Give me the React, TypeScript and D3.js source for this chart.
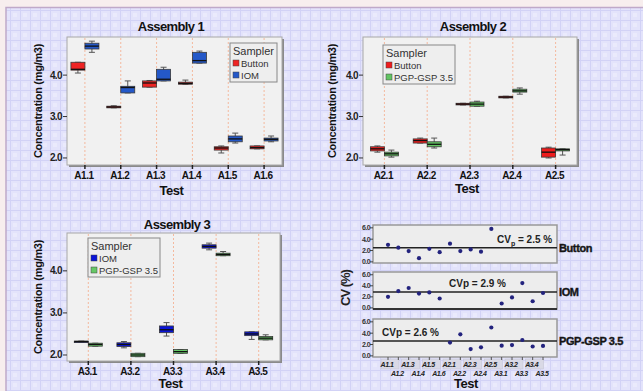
import React, { useEffect, useRef } from 'react';
import * as d3 from 'd3';

const W = 643;
const H = 391;

// box stats per test: [low whisker, q1, median, q3, high whisker]
const a1Tests = ['A1.1', 'A1.2', 'A1.3', 'A1.4', 'A1.5', 'A1.6'];
const a1Button = [
    [4.05, 4.12, 4.14, 4.31, 4.31],
    [3.21, 3.21, 3.23, 3.25, 3.26],
    [3.71, 3.71, 3.81, 3.86, 3.87],
    [3.78, 3.78, 3.80, 3.83, 3.88],
    [2.12, 2.19, 2.24, 2.27, 2.29],
    [2.22, 2.22, 2.25, 2.29, 2.29],
];
const a1IOM = [
    [4.55, 4.63, 4.70, 4.77, 4.82],
    [3.57, 3.57, 3.70, 3.73, 3.86],
    [3.86, 3.86, 3.90, 4.14, 4.19],
    [4.29, 4.29, 4.35, 4.55, 4.58],
    [2.36, 2.39, 2.46, 2.53, 2.60],
    [2.39, 2.41, 2.45, 2.48, 2.53],
];

const a2Tests = ['A2.1', 'A2.2', 'A2.3', 'A2.4', 'A2.5'];
const a2Button = [
    [2.14, 2.17, 2.22, 2.27, 2.29],
    [2.36, 2.36, 2.42, 2.46, 2.48],
    [3.28, 3.28, 3.30, 3.32, 3.32],
    [3.45, 3.45, 3.47, 3.49, 3.49],
    [2.00, 2.02, 2.14, 2.24, 2.26],
];
const a2PGP = [
    [2.02, 2.05, 2.10, 2.14, 2.19],
    [2.24, 2.27, 2.33, 2.39, 2.48],
    [3.25, 3.25, 3.30, 3.35, 3.37],
    [3.54, 3.59, 3.62, 3.66, 3.69],
    [2.07, 2.17, 2.20, 2.22, 2.22],
];

const a3Tests = ['A3.1', 'A3.2', 'A3.3', 'A3.4', 'A3.5'];
const a3IOM = [
    [2.31, 2.31, 2.32, 2.33, 2.33],
    [2.17, 2.20, 2.25, 2.29, 2.32],
    [2.45, 2.53, 2.60, 2.69, 2.77],
    [4.50, 4.54, 4.58, 4.62, 4.66],
    [2.37, 2.46, 2.50, 2.55, 2.55],
];
const a3PGP = [
    [2.21, 2.21, 2.25, 2.28, 2.28],
    [1.96, 1.96, 2.00, 2.04, 2.04],
    [2.04, 2.04, 2.08, 2.13, 2.13],
    [4.36, 4.36, 4.39, 4.42, 4.46],
    [2.36, 2.36, 2.40, 2.44, 2.48],
];

const concTicks = [2, 3, 4];

// CV (%) per test, null = sampler not used in that test
const cvTests = [...a1Tests, ...a2Tests, ...a3Tests];
const cvButton = [3.0, 2.5, 1.9, 0.65, 2.3, 1.7, 3.2, 1.9, 2.2, 1.8, 5.8, null, null, null, null, null];
const cvIOM = [2.0, 3.05, 3.6, 2.6, 2.8, 1.7, null, null, null, null, null, 0.8, 1.9, 4.5, 1.2, 2.7];
const cvPGP = [null, null, null, null, null, null, 2.35, 3.8, 1.2, 1.5, 5.0, 1.8, 1.9, 2.8, 1.65, 1.75];
const cvSamplers = ['Button', 'IOM', 'PGP-GSP 3.5'];
const cvPooled = [2.5, 2.9, 2.6];
const cvTicks = [0, 2, 4, 6];

const FONT = '"Liberation Sans", Arial, sans-serif';

const App = () => {
    const svgRef = useRef(null);

    useEffect(() => {
        const svg = d3.select(svgRef.current);
        svg.selectAll('*').remove();

        // background: lavender grid
        const defs = svg.append('defs');
        const pat = defs.append('pattern').attr('id', 'grid').attr('width', 10).attr('height', 10)
            .attr('patternUnits', 'userSpaceOnUse');
        pat.append('rect').attr('width', 10).attr('height', 10).attr('fill', '#e3e3fb');
        pat.append('rect').attr('x', 3).attr('y', 3).attr('width', 4).attr('height', 4).attr('fill', '#eaeafc');
        pat.append('path').attr('d', 'M0,0.5H10M0.5,0V10').attr('stroke', '#d2d2f6').attr('stroke-width', 1);

        svg.append('rect').attr('width', W).attr('height', H).attr('fill', '#f7eeee');
        svg.append('rect').attr('x', 6).attr('y', 8).attr('width', W - 6).attr('height', H - 8).attr('fill', 'url(#grid)');
        svg.append('path').attr('d', `M6,${H}V7.5H${W}`).attr('fill', 'none').attr('stroke', '#bfa9c9').attr('stroke-width', 1.5);

        const boxPanel = (cfg) => {
            const { x0, x1, y0, y1, domain, tests, series, title, titleX, titleY, ylabX, testY, legend } = cfg;
            const g = svg.append('g');
            const x = d3.scaleBand().domain(tests).range([x0, x1]);
            const y = d3.scaleLinear().domain(domain).range([y1, y0]);
            const cx = (t) => x(t) + x.bandwidth() / 2;

            g.append('rect').attr('x', x0 + 2).attr('y', y0 + 2).attr('width', x1 - x0).attr('height', y1 - y0).attr('fill', '#8a8a8a');
            g.append('rect').attr('x', x0).attr('y', y0).attr('width', x1 - x0).attr('height', y1 - y0)
                .attr('fill', '#f1f1f1').attr('stroke', '#a8a8a8').attr('stroke-width', 1);

            g.selectAll('.vl').data(tests).join('line')
                .attr('x1', cx).attr('x2', cx).attr('y1', y0 + 1).attr('y2', y1 - 1)
                .attr('stroke', '#f4b99e').attr('stroke-dasharray', '2,2').attr('stroke-width', 1);

            const bw = 14;
            series.forEach((s, si) => {
                const off = si === 0 ? -bw : 0;
                s.data.forEach((d, i) => {
                    const bx = cx(tests[i]) + off;
                    const mid = bx + bw / 2;
                    g.append('line').attr('x1', mid).attr('x2', mid).attr('y1', y(d[0])).attr('y2', y(d[4]))
                        .attr('stroke', '#555').attr('stroke-width', 1);
                    [d[0], d[4]].forEach(v => {
                        g.append('line').attr('x1', mid - 3).attr('x2', mid + 3).attr('y1', y(v)).attr('y2', y(v))
                            .attr('stroke', '#555').attr('stroke-width', 1);
                    });
                    g.append('rect').attr('x', bx).attr('y', y(d[3])).attr('width', bw)
                        .attr('height', Math.max(1.5, y(d[1]) - y(d[3])))
                        .attr('fill', s.color).attr('stroke', '#3a3a3a').attr('stroke-width', 0.8);
                    g.append('line').attr('x1', bx).attr('x2', bx + bw).attr('y1', y(d[2])).attr('y2', y(d[2]))
                        .attr('stroke', '#111').attr('stroke-width', 1.3);
                });
            });

            // y axis
            concTicks.forEach(t => {
                g.append('line').attr('x1', x0 - 4).attr('x2', x0).attr('y1', y(t)).attr('y2', y(t)).attr('stroke', '#333');
                g.append('text').attr('x', x0 - 5).attr('y', y(t)).attr('dy', '0.35em').attr('text-anchor', 'end')
                    .attr('font-family', FONT).attr('font-weight', 'bold').attr('font-size', 10).attr('letter-spacing', -0.6)
                    .attr('fill', '#222').text(t.toFixed(1));
            });
            // x axis
            tests.forEach(t => {
                g.append('line').attr('x1', cx(t)).attr('x2', cx(t)).attr('y1', y1).attr('y2', y1 + 4)
                    .attr('stroke', '#222').attr('stroke-width', 1.5);
                g.append('text').attr('x', cx(t) - 1).attr('y', y1 + 14).attr('text-anchor', 'middle')
                    .attr('font-family', FONT).attr('font-weight', 'bold').attr('font-size', 10).attr('letter-spacing', -0.5)
                    .attr('fill', '#111').text(t);
            });

            g.append('text').attr('x', titleX).attr('y', titleY).attr('text-anchor', 'middle')
                .attr('font-family', FONT).attr('font-weight', 'bold').attr('font-size', 13).attr('letter-spacing', -0.6)
                .attr('fill', '#111').text(title);
            g.append('text').attr('transform', `translate(${ylabX},${(y0 + y1) / 2}) rotate(-90)`).attr('dy', '0.35em')
                .attr('text-anchor', 'middle').attr('font-family', FONT).attr('font-weight', 'bold').attr('font-size', 11)
                .attr('letter-spacing', -0.3).attr('fill', '#111').text('Concentration (mg/m3)');
            g.append('text').attr('x', (x0 + x1) / 2 - 3).attr('y', testY).attr('text-anchor', 'middle')
                .attr('font-family', FONT).attr('font-weight', 'bold').attr('font-size', 13).attr('letter-spacing', -0.5)
                .attr('fill', '#111').text('Test');

            // legend
            const lg = g.append('g').attr('transform', `translate(${legend.x},${legend.y})`);
            lg.append('rect').attr('width', legend.w).attr('height', 39).attr('fill', '#eeeeee')
                .attr('stroke', '#888').attr('stroke-width', 1);
            lg.append('text').attr('x', 3).attr('y', 12).attr('font-family', FONT).attr('font-size', 11)
                .attr('font-weight', 500).attr('fill', '#333').text('Sampler');
            series.forEach((s, i) => {
                lg.append('rect').attr('x', 3).attr('y', 17 + i * 12).attr('width', 6).attr('height', 6)
                    .attr('fill', s.color).attr('stroke', '#444').attr('stroke-width', 0.5);
                lg.append('text').attr('x', 11).attr('y', 23.5 + i * 12).attr('font-family', FONT).attr('font-size', 9.5)
                    .attr('fill', '#333').text(s.name);
            });
        };

        boxPanel({
            x0: 67, x1: 282, y0: 37, y1: 165, domain: [1.83, 4.92], tests: a1Tests,
            series: [{ name: 'Button', color: '#ee2424', data: a1Button }, { name: 'IOM', color: '#2458c8', data: a1IOM }],
            title: 'Assembly 1', titleX: 171, titleY: 31, ylabX: 38, testY: 195,
            legend: { x: 230, y: 43, w: 47 },
        });
        boxPanel({
            x0: 363, x1: 577, y0: 37, y1: 165, domain: [1.83, 4.92], tests: a2Tests,
            series: [{ name: 'Button', color: '#ee1c1c', data: a2Button }, { name: 'PGP-GSP 3.5', color: '#62c462', data: a2PGP }],
            title: 'Assembly 2', titleX: 473, titleY: 31, ylabX: 332, testY: 193,
            legend: { x: 383, y: 45, w: 72 },
        });
        boxPanel({
            x0: 67, x1: 280, y0: 233, y1: 361, domain: [1.857, 4.9], tests: a3Tests,
            series: [{ name: 'IOM', color: '#0a14d8', data: a3IOM }, { name: 'PGP-GSP 3.5', color: '#66c866', data: a3PGP }],
            title: 'Assembly 3', titleX: 177, titleY: 229, ylabX: 38, testY: 388,
            legend: { x: 88, y: 238, w: 72 },
        });

        // CV panel
        const cx0 = 373, cx1 = 557;
        const strips = [
            { y0: 225, y1: 263, data: cvButton, txtX: 497, sub: true },
            { y0: 272, y1: 309, data: cvIOM, txtX: 449, sub: false },
            { y0: 319, y1: 357, data: cvPGP, txtX: 382, sub: false },
        ];
        const xp = d3.scalePoint().domain(cvTests).range([388, 543]);
        const cg = svg.append('g');

        // label band under strips
        cvTests.forEach((t, i) => {
            if (i % 2 === 0) {
                cg.append('rect').attr('x', xp(t) - 7).attr('y', 359).attr('width', 18).attr('height', 10)
                    .attr('fill', '#d9d9e6').attr('stroke', '#c2c2d2').attr('stroke-width', 0.5);
            }
        });

        strips.forEach((s, si) => {
            const y = d3.scaleLinear().domain([-0.2, 6.5]).range([s.y1, s.y0]);
            cg.append('rect').attr('x', cx0).attr('y', s.y0).attr('width', cx1 - cx0).attr('height', s.y1 - s.y0)
                .attr('fill', '#ededed').attr('stroke', '#999').attr('stroke-width', 1.5);
            if (si === 1) {
                cg.append('line').attr('x1', cx0).attr('x2', cx1).attr('y1', s.y1).attr('y2', s.y1)
                    .attr('stroke', '#333').attr('stroke-width', 1.8);
            }
            cvTicks.forEach(t => {
                cg.append('line').attr('x1', cx0 - 3).attr('x2', cx0).attr('y1', y(t)).attr('y2', y(t)).attr('stroke', '#444');
                cg.append('text').attr('x', cx0 - 3).attr('y', y(t)).attr('dy', '0.35em').attr('text-anchor', 'end')
                    .attr('font-family', FONT).attr('font-weight', 'bold').attr('font-size', 7).attr('letter-spacing', -0.6)
                    .attr('fill', '#333').text(t.toFixed(1));
            });
            const py = y(cvPooled[si]);
            cg.append('line').attr('x1', cx0).attr('x2', cx1).attr('y1', py).attr('y2', py)
                .attr('stroke', '#222').attr('stroke-width', 1.5);
            cg.selectAll(`.pt${si}`).data(s.data.map((v, i) => ({ v, t: cvTests[i] })).filter(d => d.v !== null))
                .join('circle').attr('cx', d => xp(d.t)).attr('cy', d => y(d.v)).attr('r', 2.1).attr('fill', '#23237e');

            const txt = cg.append('text').attr('x', s.txtX).attr('y', py - 5).attr('font-family', FONT)
                .attr('font-weight', 'bold').attr('font-size', 10).attr('fill', '#222');
            if (s.sub) {
                txt.append('tspan').text('CV');
                txt.append('tspan').attr('font-size', 7).attr('dy', 3).text('p');
                txt.append('tspan').attr('dy', -3).text(` = ${cvPooled[si]} %`);
            } else {
                txt.text(`CVp = ${cvPooled[si]} %`);
            }
            cg.append('text').attr('x', cx1 + 2).attr('y', py).attr('dy', '0.35em').attr('font-family', FONT)
                .attr('font-weight', 'bold').attr('font-size', 11).attr('letter-spacing', -0.4)
                .attr('stroke', '#222').attr('stroke-width', 0.4).attr('fill', '#111').text(cvSamplers[si]);
        });

        cvTests.forEach((t, i) => {
            cg.append('line').attr('x1', xp(t)).attr('x2', xp(t)).attr('y1', 357).attr('y2', 360).attr('stroke', '#555');
            cg.append('text').attr('x', xp(t) - 1).attr('y', i % 2 === 0 ? 367 : 376).attr('text-anchor', 'middle')
                .attr('font-family', FONT).attr('font-weight', 'bold').attr('font-style', 'italic').attr('font-size', 7)
                .attr('letter-spacing', -0.5).attr('fill', '#222').text(t);
        });

        cg.append('text').attr('transform', `translate(345,288) rotate(-90)`).attr('dy', '0.35em').attr('text-anchor', 'middle')
            .attr('font-family', FONT).attr('font-weight', 'bold').attr('font-size', 13).attr('letter-spacing', -1)
            .attr('fill', '#222').text('CV (%)');
        cg.append('text').attr('x', 466).attr('y', 388).attr('text-anchor', 'middle')
            .attr('font-family', FONT).attr('font-weight', 'bold').attr('font-size', 13).attr('letter-spacing', -0.5)
            .attr('fill', '#111').text('Test');
    }, []);

    return (
        <svg ref={svgRef} width={W} height={H} style={{ position: 'absolute', left: 0, top: 0 }} />
    );
};

export default App;
